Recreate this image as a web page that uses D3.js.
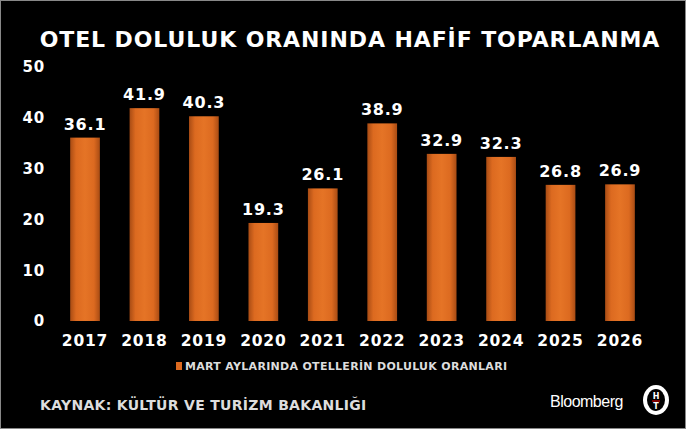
<!DOCTYPE html>
<html><head><meta charset="utf-8">
<script src="https://cdn.jsdelivr.net/npm/d3@7"></script>
<style>body{margin:0;background:#000}svg{display:block}text{font-family:Verdana,"DejaVu Sans",sans-serif;font-weight:bold}</style>
</head><body>
<script>
const categories=["2017","2018","2019","2020","2021","2022","2023","2024","2025","2026"];
const values=[36.1,41.9,40.3,19.3,26.1,38.9,32.9,32.3,26.8,26.9];
const yTicks=[0,10,20,30,40,50];
const W=686,H=429;
const svg=d3.select("body").append("svg").attr("width",W).attr("height",H);
svg.append("rect").attr("x",0.5).attr("y",0.5).attr("width",W-1).attr("height",H-1).attr("fill","#000").attr("stroke","#888");
const defs=svg.append("defs");
const g=defs.append("linearGradient").attr("id","bg");
[[0,"#a94c14"],[0.2,"#dc6a20"],[0.5,"#e57426"],[0.8,"#dc6a20"],[1,"#a94c14"]].forEach(s=>g.append("stop").attr("offset",s[0]).attr("stop-color",s[1]));
const x=d3.scaleBand().domain(categories).range([55.3,649.7]).paddingInner(0.5).paddingOuter(0.25);
const y=d3.scaleLinear().domain([0,50]).range([321,67]);
svg.append("text").attr("x",350).attr("y",47).attr("text-anchor","middle").attr("fill","#fff").attr("font-size",22).attr("letter-spacing",0.9).text("OTEL DOLULUK ORANINDA HAFİF TOPARLANMA");
const ya=svg.append("g").attr("transform","translate(45,0)").call(d3.axisLeft(y).tickValues(yTicks).tickSize(0).tickPadding(0));
ya.select(".domain").remove();
ya.selectAll("text").attr("fill","#fff").attr("font-size",15).attr("letter-spacing",0.8).attr("font-family","Verdana,'DejaVu Sans',sans-serif");
const xa=svg.append("g").attr("transform","translate(0,335)").call(d3.axisBottom(x).tickSize(0).tickPadding(0));
xa.select(".domain").remove();
xa.selectAll("text").attr("fill","#fff").attr("font-size",15.5).attr("letter-spacing",0.8).attr("dy","0.71em").attr("font-family","Verdana,'DejaVu Sans',sans-serif");
svg.selectAll("rect.bar").data(values).join("rect").attr("class","bar")
 .attr("x",(d,i)=>x(categories[i])).attr("width",x.bandwidth())
 .attr("y",d=>y(d)).attr("height",d=>y(0)-y(d)).attr("fill","url(#bg)");
svg.selectAll("text.lbl").data(values).join("text").attr("class","lbl")
 .attr("x",(d,i)=>x(categories[i])+x.bandwidth()/2).attr("y",d=>y(d)-8)
 .attr("text-anchor","middle").attr("fill","#fff").attr("font-size",16).attr("letter-spacing",0.8).text(d=>d.toFixed(1));
svg.append("rect").attr("x",176).attr("y",362).attr("width",6).attr("height",8).attr("fill","#dc6a20");
svg.append("text").attr("x",185).attr("y",370).attr("fill","#ddd").attr("font-size",11).attr("letter-spacing",0.3).text("MART AYLARINDA OTELLERİN DOLULUK ORANLARI");
svg.append("text").attr("x",40).attr("y",410).attr("fill","#ddd").attr("font-size",14).attr("letter-spacing",0.3).text("KAYNAK: KÜLTÜR VE TURİZM BAKANLIĞI");
svg.append("text").attr("x",550).attr("y",407).attr("fill","#fff").attr("font-size",16).style("font-weight","normal").style("font-family","Arial,'Liberation Sans',sans-serif").attr("letter-spacing",-0.5).text("Bloomberg");
svg.append("ellipse").attr("cx",656).attr("cy",400).attr("rx",13).attr("ry",15).attr("fill","#fff");
svg.append("ellipse").attr("cx",656).attr("cy",400).attr("rx",9).attr("ry",11).attr("fill","#000");
svg.append("text").attr("x",656).attr("y",399).attr("text-anchor","middle").attr("fill","#fff").attr("font-size",8).text("H");
svg.append("text").attr("x",656).attr("y",409).attr("text-anchor","middle").attr("fill","#fff").attr("font-size",8).text("T");
svg.append("line").attr("x1",652).attr("x2",660).attr("y1",401).attr("y2",401).attr("stroke","#c00").attr("stroke-width",1.2);
</script>
</body></html>
